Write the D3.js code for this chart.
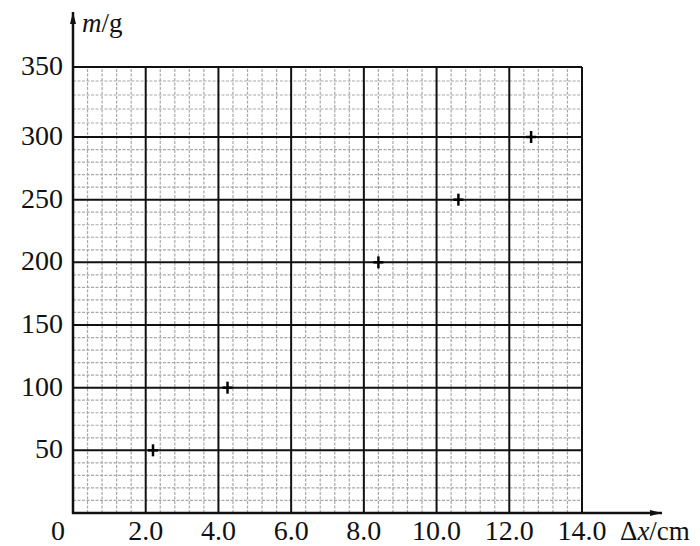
<title>m - dx graph</title>
<style>
  body { margin: 0; background: #fff; }
  svg text { font-family: "Liberation Serif", "DejaVu Serif", serif; fill: #111; }
</style>
<svg id="chart"></svg>
<script src="https://d3js.org/d3.v7.min.js"></script>
<script>
  // data
  var dx = [2.2, 4.25, 8.4, 10.6, 12.6];     // cm
  var mass = [50, 100, 200, 250, 300];       // g
  var xTicks = [2.0, 4.0, 6.0, 8.0, 10.0, 12.0, 14.0];
  var yTicks = [50, 100, 150, 200, 250, 300, 350];

  var width = 700, height = 546;
  var svg = d3.select('#chart')
      .attr('width', width)
      .attr('height', height);

  var x = d3.scaleLinear().domain([0, 14]).range([73, 582]);
  // the scanned paper is a bit stretched in the top band
  var y = d3.scaleLinear().domain([0, 300, 350]).range([513, 137, 67]);

  // minor grid
  var minorX = d3.range(0.4, 14, 0.4).filter(function(v) { return Math.abs(v / 2 - Math.round(v / 2)) > 0.01; });
  var minorY = d3.range(10, 350, 10).filter(function(v) { return v % 50 != 0; });

  var grid = svg.append('g');
  grid.selectAll('.mx').data(minorX).enter().append('line')
    .attr('x1', function(d) { return x(d); })
    .attr('x2', function(d) { return x(d); })
    .attr('y1', y(0)).attr('y2', y(350))
    .attr('stroke', '#a8a8a8').attr('stroke-width', 1.2)
    .attr('stroke-dasharray', '3,1.5');
  grid.selectAll('.my').data(minorY).enter().append('line')
    .attr('y1', function(d) { return y(d); })
    .attr('y2', function(d) { return y(d); })
    .attr('x1', x(0)).attr('x2', x(14))
    .attr('stroke', '#a8a8a8').attr('stroke-width', 1.2)
    .attr('stroke-dasharray', '3,1.5');

  // major grid
  grid.selectAll('.Mx').data(xTicks).enter().append('line')
    .attr('x1', function(d) { return x(d); })
    .attr('x2', function(d) { return x(d); })
    .attr('y1', y(0)).attr('y2', y(350))
    .attr('stroke', '#111').attr('stroke-width', 2);
  grid.selectAll('.My').data(yTicks).enter().append('line')
    .attr('y1', function(d) { return y(d); })
    .attr('y2', function(d) { return y(d); })
    .attr('x1', x(0)).attr('x2', x(14))
    .attr('stroke', '#111').attr('stroke-width', 2);

  // axes with arrows
  svg.append('defs').append('marker')
    .attr('id', 'arrow')
    .attr('viewBox', '0 0 12 6')
    .attr('refX', 12).attr('refY', 3)
    .attr('markerWidth', 12).attr('markerHeight', 6)
    .attr('markerUnits', 'userSpaceOnUse')
    .attr('orient', 'auto')
    .append('path').attr('d', 'M0,0 L12,3 L0,6 Z').attr('fill', '#111');

  svg.append('line')
    .attr('x1', x(0)).attr('x2', x(0))
    .attr('y1', y(0) + 1).attr('y2', 12)
    .attr('stroke', '#111').attr('stroke-width', 2.5)
    .attr('marker-end', 'url(#arrow)');
  svg.append('line')
    .attr('x1', x(0) - 1).attr('x2', 662)
    .attr('y1', y(0)).attr('y2', y(0))
    .attr('stroke', '#111').attr('stroke-width', 2.5)
    .attr('marker-end', 'url(#arrow)');

  // tick labels
  svg.selectAll('.xl').data(xTicks).enter().append('text')
    .attr('x', function(d) { return x(d); })
    .attr('y', 540)
    .attr('text-anchor', 'middle')
    .attr('font-size', 28)
    .text(function(d) { return d.toFixed(1); });
  svg.append('text')
    .attr('x', 58).attr('y', 540)
    .attr('text-anchor', 'middle')
    .attr('font-size', 28)
    .text('0');
  svg.selectAll('.yl').data(yTicks).enter().append('text')
    .attr('x', 63)
    .attr('y', function(d) { return y(d) + 8; })
    .attr('text-anchor', 'end')
    .attr('font-size', 28)
    .text(function(d) { return d; });

  // axis titles
  var yt = svg.append('text').attr('x', 82).attr('y', 32).attr('font-size', 27);
  yt.append('tspan').attr('font-style', 'italic').text('m');
  yt.append('tspan').text('/g');
  var xt = svg.append('text').attr('x', 620).attr('y', 540).attr('font-size', 27);
  xt.append('tspan').text('Δ');
  xt.append('tspan').attr('font-style', 'italic').text('x');
  xt.append('tspan').text('/cm');

  // measured points as small crosses
  var pts = dx.map(function(d, i) { return [d, mass[i]]; });
  var pg = svg.selectAll('.pt').data(pts).enter().append('g')
    .attr('transform', function(d) { return 'translate(' + x(d[0]) + ',' + y(d[1]) + ')'; });
  pg.append('line').attr('x1', -5).attr('x2', 5).attr('stroke', '#000').attr('stroke-width', 2.5);
  pg.append('line').attr('y1', -6).attr('y2', 6).attr('stroke', '#000').attr('stroke-width', 2.5);
</script>
